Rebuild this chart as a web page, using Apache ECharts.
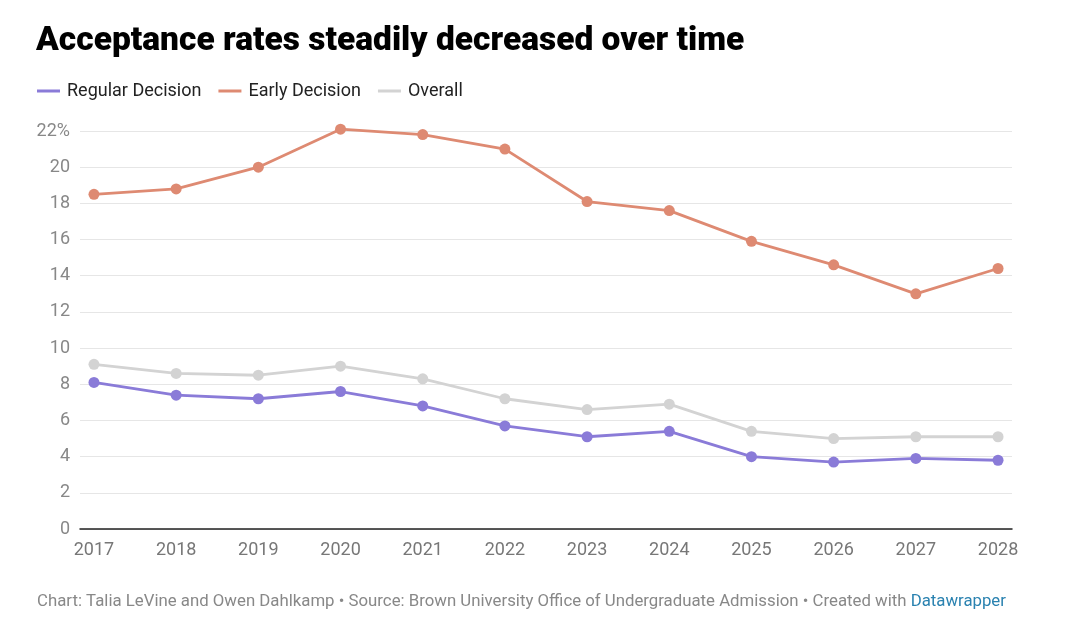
<!DOCTYPE html>
<html><head><meta charset="utf-8">
<script src="https://cdn.jsdelivr.net/npm/echarts@6/dist/echarts.min.js"></script>
<style>html,body{margin:0;padding:0;background:#fff}#c{width:1080px;height:622px}</style>
</head><body><div id="c"></div>
<script>
const years = [2017,2018,2019,2020,2021,2022,2023,2024,2025,2026,2027,2028];
const regularDecision = [8.1,7.4,7.2,7.6,6.8,5.7,5.1,5.4,4.0,3.7,3.9,3.8];
const earlyDecision = [18.5,18.8,20.0,22.1,21.8,21.0,18.1,17.6,15.9,14.6,13.0,14.4];
const overall = [9.1,8.6,8.5,9.0,8.3,7.2,6.6,6.9,5.4,5.0,5.1,5.1];
const seriesNames = ['Regular Decision','Early Decision','Overall'];
const yTicks = [0,2,4,6,8,10,12,14,16,18,20,22];

const colors = ['#8a7bd8','#de8a72','#d3d3d3'];
const font = 'Roboto, "Noto Sans", sans-serif';
const chart = echarts.init(document.getElementById('c'));
const pairs = arr => years.map((y,i)=>[y,arr[i]]);
function mkSeries(name, arr, color, z){
  return {name, type:'line', data:pairs(arr), z, clip:false,
    symbol:'circle', symbolSize:11, showSymbol:true,
    lineStyle:{color, width:2.8}, itemStyle:{color}, emphasis:{disabled:true}};
}
chart.setOption({
  animation:false,
  title:{text:'Acceptance rates steadily decreased over time', left:36, top:25, padding:0,
    textStyle:{fontFamily:font, fontSize:33.5, fontWeight:900, color:'#000'}},
  legend:{left:37, top:82, padding:0, itemGap:17, itemWidth:23, itemHeight:3,
    icon:'rect', data:seriesNames,
    textStyle:{fontFamily:font, fontSize:18, color:'#222', padding:[0,0,0,2]}},
  grid:{left:80, right:68, top:131, bottom:93, containLabel:false},
  xAxis:{type:'value', min:2016.83, max:2028.17,
    axisLine:{show:true, lineStyle:{color:'#222', width:1.5}},
    axisTick:{show:false}, splitLine:{show:false},
    axisLabel:{customValues:years, fontFamily:font, fontSize:18, color:'#777', margin:12,
      formatter:v=>String(v)}},
  yAxis:{type:'value', min:0, max:22, interval:2,
    axisLine:{show:false}, axisTick:{show:false},
    splitLine:{lineStyle:{color:'#e6e6e6', width:1}},
    axisLabel:{fontFamily:font, fontSize:18, color:'#888', margin:10,
      formatter:v=> v===yTicks[yTicks.length-1] ? v+'%' : String(v)}},
  series:[
    mkSeries(seriesNames[0], regularDecision, colors[0], 3),
    mkSeries(seriesNames[1], earlyDecision, colors[1], 3),
    mkSeries(seriesNames[2], overall, colors[2], 2)
  ],
  graphic:[{type:'text', left:37, top:593,
    style:{text:'Chart: Talia LeVine and Owen Dahlkamp • Source: Brown University Office of Undergraduate Admission • Created with {a|Datawrapper}',
      font:'16.8px '+font, fill:'#888',
      rich:{a:{fill:'#2a82b0', font:'16.8px '+font}}}}]
});
</script></body></html>
